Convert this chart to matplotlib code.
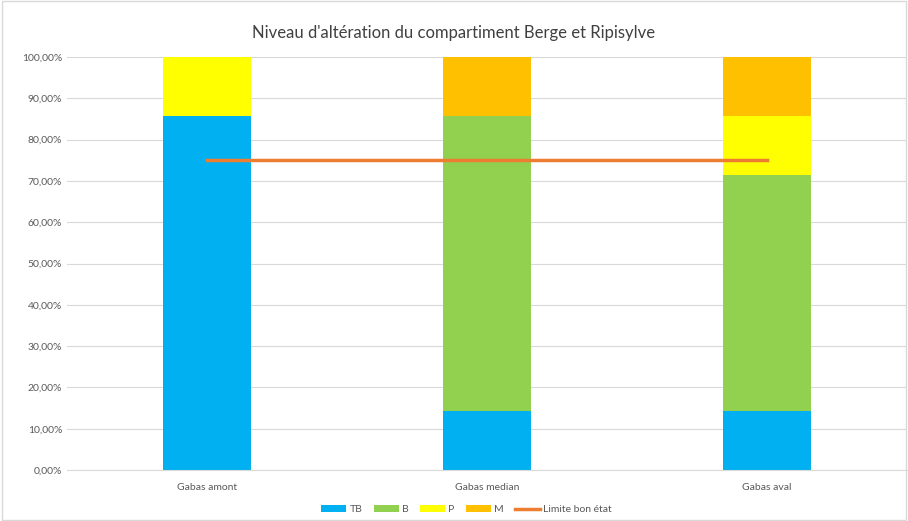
import numpy as np
import matplotlib.pyplot as plt
from matplotlib.ticker import FuncFormatter

plt.rcParams['font.family'] = ['Lato', 'DejaVu Sans']

# data
stations = ["Gabas amont", "Gabas median", "Gabas aval"]
tb = [85.71, 14.29, 14.29]
b = [0.0, 71.43, 57.14]
p = [14.29, 0.0, 14.29]
m = [0.0, 14.29, 14.29]
limite = [75, 75, 75]

colors = {"TB": "#00B0F0", "B": "#92D050", "P": "#FFFF00", "M": "#FFC000"}

fig = plt.figure(figsize=(9.08, 5.21), dpi=100)
ax = fig.add_axes([67/908, 1-470/521, 840/908, 413/521])

x = np.arange(len(stations))
w = 0.314
bottom = np.zeros(len(stations))
handles = []
for name, vals in [("TB", tb), ("B", b), ("P", p), ("M", m)]:
    h = ax.bar(x, vals, w, bottom=bottom, color=colors[name], label=name, zorder=2)
    handles.append(h)
    bottom += np.array(vals)

line, = ax.plot(x, limite, color="#ED7D31", lw=2.5, label="Limite bon état", zorder=3)
handles.append(line)

ax.set_xlim(-0.5, 2.5)
ax.set_ylim(0, 100)
ax.set_yticks(np.arange(0, 101, 10))
ax.yaxis.set_major_formatter(FuncFormatter(lambda v, pos: ("%.2f%%" % v).replace(".", ",")))
ax.set_xticks(x)
ax.set_xticklabels(stations)
ax.grid(axis="y", color="#D9D9D9", lw=0.8, zorder=0)
for s in ["top", "right", "left"]:
    ax.spines[s].set_visible(False)
ax.spines["bottom"].set_color("#D9D9D9")
ax.tick_params(length=0, labelsize=7.5, labelcolor="#595959")
ax.tick_params(axis="x", pad=9)

fig.suptitle("Niveau d'altération du compartiment Berge et Ripisylve", y=0.952,
             fontsize=12, color="#404040")

fig.legend(handles=handles, loc="lower center", ncol=5, frameon=False, fontsize=7.5,
           bbox_to_anchor=(0.514, -0.005), handlelength=2.4, handleheight=0.6,
           columnspacing=1.1, handletextpad=0.3, labelcolor="#595959")

fig.patches.append(plt.Rectangle((0.002, 0.002), 0.996, 0.996, transform=fig.transFigure,
                                 fill=False, edgecolor="#D9D9D9", lw=1))

fig.savefig("out.png", dpi=100)
